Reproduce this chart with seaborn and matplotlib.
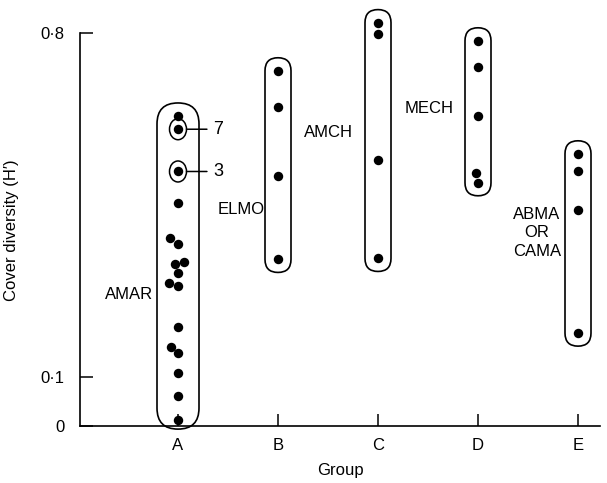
import numpy as np
import pandas as pd
import matplotlib
matplotlib.use("Agg")
import matplotlib.pyplot as plt
from matplotlib.patches import FancyBboxPatch, Ellipse
from matplotlib.transforms import IdentityTransform
import seaborn as sns

# values (cover diversity H')
groups = ["A", "B", "C", "D", "E"]
h_A = [0.631, 0.604, 0.518, 0.453, 0.382, 0.370, 0.334, 0.330, 0.312,
       0.292, 0.285, 0.202, 0.161, 0.148, 0.108, 0.061, 0.012]
h_B = [0.723, 0.650, 0.509, 0.339]
h_C = [0.821, 0.798, 0.541, 0.341]
h_D = [0.784, 0.730, 0.631, 0.514, 0.495]
h_E = [0.554, 0.518, 0.440, 0.189]

group_names = ["AMAR", "ELMO", "AMCH", "MECH", "ABMA\nOR\nCAMA"]
name_pos = [(-0.25, 0.267), (0.87, 0.440), (1.75, 0.597), (2.76, 0.647), (3.59, 0.393)]
name_align = ["right", "right", "right", "right", "center"]

# marked points in group A (number of stands)
marked_h = [0.604, 0.518]
marked_n = ["7", "3"]

yticks = [0, 0.1, 0.8]
ytick_labels = ["0", "0\u00b71", "0\u00b78"]

values = [h_A, h_B, h_C, h_D, h_E]
df = pd.DataFrame({
    "group": np.repeat(groups, [len(v) for v in values]),
    "H": np.concatenate(values),
})

sns.set_style("ticks")
plt.rcParams["font.family"] = ["Liberation Sans", "DejaVu Sans"]
plt.rcParams.update({"text.color": "black", "axes.labelcolor": "black",
                     "xtick.color": "black", "ytick.color": "black"})

W, H = 607, 483
fig = plt.figure(figsize=(W / 100, H / 100), dpi=100)
ax = fig.add_axes([80 / W, 57 / H, 520 / W, 426 / H])

sns.swarmplot(data=df, x="group", y="H", order=groups, color="black",
              size=6.8, ax=ax, zorder=3)

ax.set_xlim(-0.98, 4.22)
ax.set_ylim(0, 0.867)
sns.despine(ax=ax)
ax.spines["left"].set_bounds(0, 0.8)
for s in ["left", "bottom"]:
    ax.spines[s].set_linewidth(1.2)
    ax.spines[s].set_color("black")

ax.set_yticks(yticks)
ax.set_yticklabels(ytick_labels)
ax.tick_params(axis="both", direction="in", length=9, width=1.1,
               colors="black", labelsize=12)
ax.tick_params(axis="y", pad=11)
ax.tick_params(axis="x", pad=9)
ax.set_xlabel("Group", fontsize=12, labelpad=7)
ax.set_ylabel("Cover diversity (H\u2032)", fontsize=12)
ax.yaxis.set_label_coords(-0.118, 0.46)

# capsules round each group, drawn in pixel space so the ends stay round
fig.canvas.draw()
to_px = ax.transData.transform
for i, v in enumerate(values):
    w = 42 if i == 0 else 26
    cx, top = to_px((i, max(v)))
    _, bot = to_px((i, min(v)))
    top += 13
    bot -= 9 if i == 0 else 13
    box = FancyBboxPatch((cx - w / 2, bot), w, top - bot,
                         boxstyle=f"round,pad=0,rounding_size={w / 2}",
                         fc="none", ec="black", lw=1.2,
                         transform=IdentityTransform(), clip_on=False)
    ax.add_patch(box)

for h, n in zip(marked_h, marked_n):
    px, py = to_px((0, h))
    ax.add_patch(Ellipse((px, py), 17, 21, fc="none", ec="black", lw=1.1,
                         transform=IdentityTransform(), clip_on=False))
    ax.annotate(n, xy=(0.085, h), xytext=(0.35, h), textcoords="data",
                fontsize=13, va="center", ha="left",
                arrowprops=dict(arrowstyle="-", lw=1.1, color="black",
                                shrinkA=2, shrinkB=0))

for name, (x, y), ha in zip(group_names, name_pos, name_align):
    ax.text(x, y, name, fontsize=12, ha=ha, va="center",
            multialignment="center", linespacing=1.3)

fig.savefig("out.png", dpi=100)
